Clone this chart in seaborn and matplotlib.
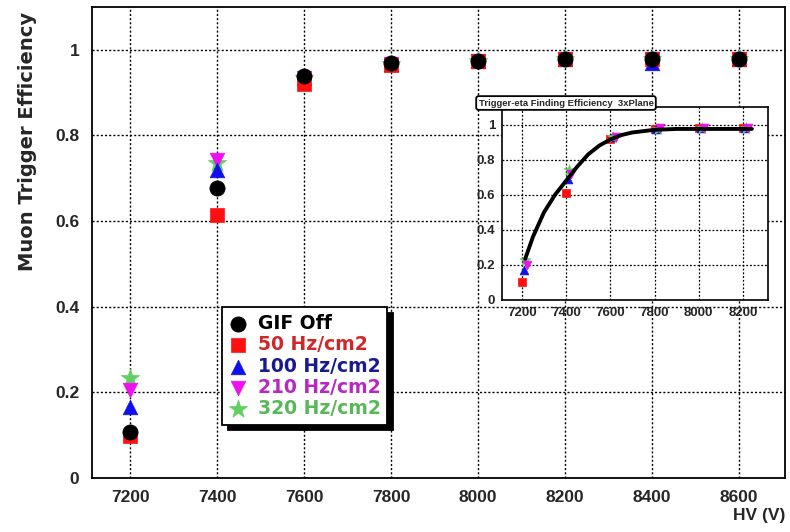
import matplotlib
matplotlib.use("Agg")
import matplotlib.pyplot as plt
import seaborn as sns
import pandas as pd
from matplotlib.ticker import MultipleLocator, FixedLocator

# HV scan points (V)
hv = [7200, 7400, 7600, 7800, 8000, 8200, 8400, 8600]

# Muon trigger efficiency per background rate
eff_gif_off = [0.108, 0.678, 0.940, 0.970, 0.975, 0.978, 0.978, 0.978]
eff_50 = [0.098, 0.615, 0.920, 0.965, 0.975, 0.978, 0.978, 0.978]
eff_100 = [0.166, 0.720, 0.935, 0.968, 0.975, 0.978, 0.970, 0.978]
eff_210 = [0.206, 0.743, 0.935, 0.968, 0.975, 0.978, 0.978, 0.978]
eff_320 = [0.234, 0.735, 0.935, 0.968, 0.975, 0.978, 0.978, 0.978]

series_labels = ["GIF Off", "50 Hz/cm2", "100 Hz/cm2", "210 Hz/cm2", "320 Hz/cm2"]

# inset: 6 HV points, fit curve
inset_hv = [7200, 7400, 7600, 7800, 8000, 8200]
inset_50 = [0.105, 0.610, 0.920, 0.975, 0.978, 0.978]
inset_100 = [0.170, 0.690, 0.930, 0.975, 0.978, 0.978]
inset_320 = [0.230, 0.740, 0.930, 0.975, 0.978, 0.978]
inset_210 = [0.200, 0.720, 0.930, 0.978, 0.980, 0.982]
fit_hv = [7215, 7250, 7300, 7350, 7400, 7450, 7500, 7550, 7600, 7650, 7700, 7800, 7900, 8000, 8240]
fit_eff = [0.235, 0.36, 0.50, 0.60, 0.68, 0.76, 0.83, 0.88, 0.915, 0.94, 0.955, 0.97, 0.975, 0.975, 0.975]

sns.set_style("white")
plt.rcParams["font.family"] = ["Liberation Sans", "DejaVu Sans"]
plt.rcParams["font.weight"] = "bold"
wide = ["DejaVu Sans"]

styles = [
    ("black", "o", 120, eff_gif_off),
    ("#ff1010", "s", 100, eff_50),
    ("#1010ee", "^", 110, eff_100),
    ("#ee10ee", "v", 110, eff_210),
    ("#60d060", "*", 190, eff_320),
]
text_colors = ["black", "#d02828", "#1a1a90", "#b828c0", "#58b858"]

fig = plt.figure(figsize=(7.9, 5.32), dpi=100)
ax = fig.add_axes([92 / 790, 54 / 532, 693 / 790, 471 / 532])

# draw in reverse so GIF Off sits on top like the original
for (color, marker, size, vals), label in reversed(list(zip(styles, series_labels))):
    df = pd.DataFrame({"hv": hv, "eff": vals})
    sns.scatterplot(data=df, x="hv", y="eff", ax=ax, color=color, marker=marker,
                    s=size, edgecolor=color, linewidth=0.5, zorder=3, label=label)

ax.set_xlim(7112, 8706)
ax.set_ylim(0, 1.1)
ax.xaxis.set_major_locator(FixedLocator(range(7200, 8601, 200)))
ax.xaxis.set_minor_locator(MultipleLocator(50))
ax.yaxis.set_major_locator(FixedLocator([0, 0.2, 0.4, 0.6, 0.8, 1.0]))
ax.yaxis.set_minor_locator(MultipleLocator(0.05))
ax.set_yticklabels(["0", "0.2", "0.4", "0.6", "0.8", "1"])
ax.tick_params(which="both", direction="in", top=False, right=False, labelsize=12.5, width=1.1)
ax.tick_params(which="major", length=10, pad=9)
ax.tick_params(which="minor", length=5.5)
ax.grid(True, which="major", color="black", linestyle=(0, (1.5, 1.5)), linewidth=1.0)
for sp in ax.spines.values():
    sp.set_color("black")
    sp.set_linewidth(1.3)

ax.set_xlabel("HV (V)", fontsize=12.5, fontweight="bold", loc="right")
ax.xaxis.set_label_coords(1.0, -0.064)
ax.xaxis.label.set_va("top")
ax.set_ylabel("Muon Trigger Efficiency", fontsize=14, fontweight="bold", family=wide, loc="top")
ax.yaxis.set_label_coords(-0.08, 0.99)

h, l = ax.get_legend_handles_labels()
order = [l.index(s) for s in series_labels]
leg = ax.legend([h[i] for i in order], [l[i] for i in order], loc="upper left",
                bbox_to_anchor=(0.1876, 0.362), borderaxespad=0, fancybox=False,
                edgecolor="black", framealpha=1, handletextpad=0.55,
                labelspacing=0.12, borderpad=0.35, handlelength=1.0, markerscale=1.0,
                prop={"family": wide, "weight": "bold", "size": 13.5},
                shadow={"color": "black", "alpha": 1.0, "ox": 4, "oy": -4})
leg.get_frame().set_linewidth(1.3)
for txt, c in zip(leg.get_texts(), text_colors):
    txt.set_color(c)

# inset
ins = fig.add_axes([502 / 790, 232 / 532, 266 / 790, 193 / 532])
inset_styles = [
    ("#ff1010", "s", 40, inset_50, 0),
    ("#1010ee", "^", 40, inset_100, 8),
    ("#60d060", "*", 70, inset_320, 14),
    ("#ee10ee", "v", 40, inset_210, 24),
]
for color, marker, size, vals, shift in inset_styles:
    df = pd.DataFrame({"hv": [x + shift for x in inset_hv], "eff": vals})
    sns.scatterplot(data=df, x="hv", y="eff", ax=ins, color=color, marker=marker,
                    s=size, edgecolor=color, linewidth=0.5, zorder=3, legend=False)
fit_df = pd.DataFrame({"hv": fit_hv, "eff": fit_eff})
sns.lineplot(data=fit_df, x="hv", y="eff", ax=ins, color="black", linewidth=2.8,
             sort=False, estimator=None, zorder=4)

ins.set_xlim(7110, 8313)
ins.set_ylim(0, 1.1)
ins.xaxis.set_major_locator(FixedLocator(range(7200, 8201, 200)))
ins.xaxis.set_minor_locator(MultipleLocator(50))
ins.yaxis.set_major_locator(FixedLocator([0, 0.2, 0.4, 0.6, 0.8, 1.0]))
ins.yaxis.set_minor_locator(MultipleLocator(0.05))
ins.set_yticklabels(["0", "0.2", "0.4", "0.6", "0.8", "1"])
ins.tick_params(which="both", direction="in", top=False, right=False, labelsize=9.5, width=0.9)
ins.tick_params(which="major", length=6, pad=5)
ins.tick_params(which="minor", length=3)
ins.grid(True, which="major", color="black", linestyle=(0, (1.5, 1.5)), linewidth=0.9)
ins.set_xlabel("")
ins.set_ylabel("")
for sp in ins.spines.values():
    sp.set_color("black")
    sp.set_linewidth(1.2)

fig.text(566 / 790, 1 - 103 / 532, "Trigger-eta Finding Efficiency  3xPlane", fontsize=6.8,
         fontweight="bold", ha="center", va="center",
         bbox=dict(boxstyle="round,pad=0.25", fc="white", ec="black", lw=1.3))

fig.savefig("out.png", dpi=100)
